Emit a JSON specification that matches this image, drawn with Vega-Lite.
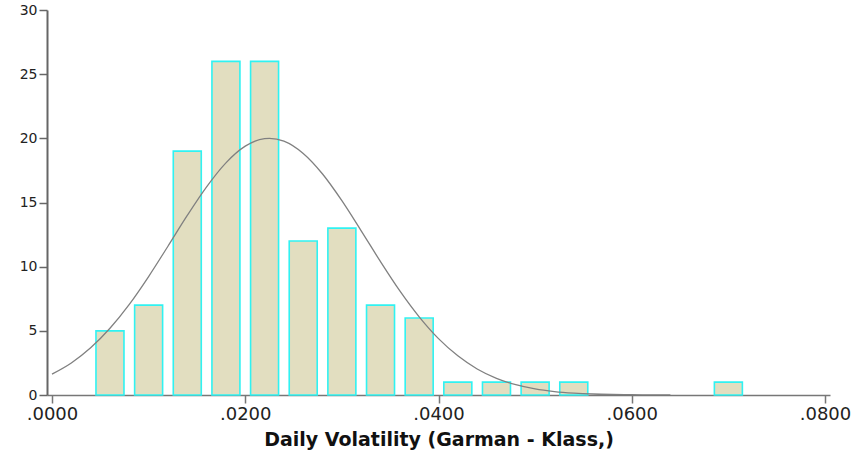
{
  "$schema": "https://vega.github.io/schema/vega-lite/v6.json",
  "autosize": "none",
  "width": 783,
  "height": 385,
  "padding": {"left": 47, "top": 10, "right": 33, "bottom": 62},
  "background": "white",
  "config": {"view": {"stroke": null}, "font": "DejaVu Sans"},
  "datasets": {
    "hist": [
      {"center": 0.006, "count": 5},
      {"center": 0.010, "count": 7},
      {"center": 0.014, "count": 19},
      {"center": 0.018, "count": 26},
      {"center": 0.022, "count": 26},
      {"center": 0.026, "count": 12},
      {"center": 0.030, "count": 13},
      {"center": 0.034, "count": 7},
      {"center": 0.038, "count": 6},
      {"center": 0.042, "count": 1},
      {"center": 0.046, "count": 1},
      {"center": 0.050, "count": 1},
      {"center": 0.054, "count": 1},
      {"center": 0.070, "count": 1}
    ],
    "curve": [
      {"x": 0.000, "y": 1.63}, {"x": 0.002, "y": 2.50}, {"x": 0.004, "y": 3.68},
      {"x": 0.006, "y": 5.20}, {"x": 0.008, "y": 7.06}, {"x": 0.010, "y": 9.23},
      {"x": 0.012, "y": 11.59}, {"x": 0.014, "y": 13.99}, {"x": 0.016, "y": 16.22},
      {"x": 0.018, "y": 18.09}, {"x": 0.020, "y": 19.39}, {"x": 0.022, "y": 19.98},
      {"x": 0.0225, "y": 20.0}, {"x": 0.024, "y": 19.78}, {"x": 0.026, "y": 18.82},
      {"x": 0.028, "y": 17.22}, {"x": 0.030, "y": 15.14}, {"x": 0.032, "y": 12.79},
      {"x": 0.034, "y": 10.39}, {"x": 0.036, "y": 8.11}, {"x": 0.038, "y": 6.09},
      {"x": 0.040, "y": 4.39}, {"x": 0.042, "y": 3.05}, {"x": 0.044, "y": 2.03},
      {"x": 0.046, "y": 1.30}, {"x": 0.048, "y": 0.80}, {"x": 0.050, "y": 0.47},
      {"x": 0.052, "y": 0.27}, {"x": 0.054, "y": 0.15}, {"x": 0.056, "y": 0.077},
      {"x": 0.058, "y": 0.039}, {"x": 0.060, "y": 0.019}, {"x": 0.062, "y": 0.009},
      {"x": 0.064, "y": 0.004}
    ]
  },
  "layer": [
    {
      "data": {"name": "hist"},
      "mark": {"type": "bar", "size": 28, "fill": "#E2DEC0", "stroke": "#30F2F2", "strokeWidth": 1.6},
      "encoding": {
        "x": {
          "field": "center", "type": "quantitative",
          "scale": {"domain": [0, 0.08], "nice": false, "zero": false},
          "axis": {
            "values": [0, 0.02, 0.04, 0.06, 0.08],
            "labelExpr": "substring(format(datum.value, '.4f'), 1)",
            "title": "Daily Volatility (Garman - Klass,)",
            "titleFont": "DejaVu Sans", "titleFontSize": 19, "titleFontWeight": "bold", "titleColor": "#111",
            "titlePadding": 7,
            "labelFont": "DejaVu Sans", "labelFontSize": 18, "labelColor": "#222", "labelPadding": 2,
            "labelFlush": false,
            "domainColor": "#777", "domainWidth": 1.5,
            "tickColor": "#777", "tickWidth": 1.5, "tickSize": 8,
            "grid": false
          }
        },
        "y": {
          "field": "count", "type": "quantitative",
          "scale": {"domain": [0, 30], "nice": false},
          "axis": {
            "values": [0, 5, 10, 15, 20, 25, 30],
            "title": null,
            "labelFont": "DejaVu Sans", "labelFontSize": 14, "labelColor": "#222", "labelPadding": 2,
            "domainColor": "#666", "domainWidth": 2,
            "tickColor": "#666", "tickWidth": 1.5, "tickSize": 8,
            "grid": false
          }
        }
      }
    },
    {
      "data": {"name": "curve"},
      "mark": {"type": "line", "color": "#808080", "strokeWidth": 1.3, "interpolate": "monotone", "clip": true},
      "encoding": {
        "x": {"field": "x", "type": "quantitative"},
        "y": {"field": "y", "type": "quantitative"}
      }
    }
  ]
}
